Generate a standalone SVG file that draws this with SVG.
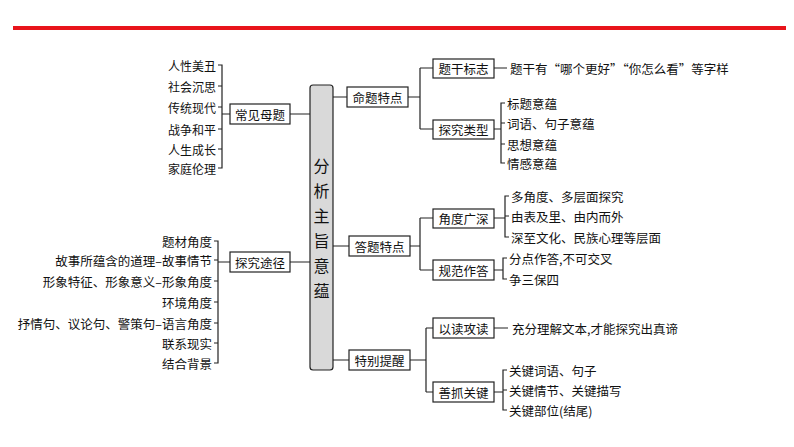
<svg xmlns="http://www.w3.org/2000/svg" width="794" height="447" viewBox="0 0 794 447">
<style>
text{font-family:"Noto Sans CJK SC","Liberation Serif",serif;font-size:12.5px;fill:#111;dominant-baseline:central}
.r{text-anchor:end}
.c{text-anchor:middle}
.b{fill:#fff;stroke:#222;stroke-width:1.2}
.l{fill:none;stroke:#222;stroke-width:1.2}
.big{font-size:16px}
.s{font-size:12px}
</style>
<rect width="794" height="447" fill="#fff"/>
<rect x="13" y="26" width="773" height="4" fill="#e8141b"/>
<g id="connectors">
<path class="l" d="M218 65H222V168H218M218 86H222M218 107H222M218 129H222M218 149H222M222 114H230M290 114H310"/>
<path class="l" d="M214 241H218V363H214M214 260H218M214 281H218M214 302H218M214 323H218M214 343H218M218 262H230M290 262H310"/>
<path class="l" d="M333 97H347M408 97H420M420 68V129M420 68H433M420 129H433M494 68H507M494 129H501M505 103H501V163H505M501 123H505M501 144H505"/>
<path class="l" d="M333 246H349M410 246H420M420 218V270M420 218H433M420 270H433M494 218H505M509 196H505V237H509M505 216H509M494 270H503M507 258H503V279H507"/>
<path class="l" d="M333 360H349M410 360H426M426 328V392M426 328H433M426 392H433M494 328H508M494 392H503M507 370H503V410H507M503 390H507"/>
</g>
<g id="center"><rect x="310" y="85" width="23" height="285" rx="3" fill="#d9d9d9" stroke="#222" stroke-width="1.2"/>
<text class="c big" x="321.5" y="165">分</text><text class="c big" x="321.5" y="190">析</text><text class="c big" x="321.5" y="215">主</text><text class="c big" x="321.5" y="240">旨</text><text class="c big" x="321.5" y="265">意</text><text class="c big" x="321.5" y="290">蕴</text></g>
<g id="n-common"><rect class="b" x="230" y="104" width="60" height="20"/><text class="c" x="260" y="114">常见母题</text>
<text class="r s" x="216" y="65">人性美丑</text><text class="r s" x="216" y="86">社会沉思</text><text class="r s" x="216" y="107">传统现代</text><text class="r s" x="216" y="129">战争和平</text><text class="r s" x="216" y="149">人生成长</text><text class="r s" x="216" y="168">家庭伦理</text></g>
<g id="n-path"><rect class="b" x="230" y="252" width="60" height="20"/><text class="c" x="260" y="262">探究途径</text>
<text class="r" x="212" y="241">题材角度</text><text class="r" x="212" y="260">故事所蕴含的道理–故事情节</text><text class="r" x="212" y="281">形象特征、形象意义–形象角度</text><text class="r" x="212" y="302">环境角度</text><text class="r" x="212" y="323">抒情句、议论句、警策句–语言角度</text><text class="r" x="212" y="343">联系现实</text><text class="r" x="212" y="363">结合背景</text></g>
<g id="n-mingti"><rect class="b" x="347" y="87" width="61" height="20"/><text class="c" x="377.5" y="97">命题特点</text></g>
<g id="n-tigan"><rect class="b" x="433" y="59" width="61" height="19"/><text class="c" x="463.5" y="68">题干标志</text><text x="510" y="68">题干有“哪个更好”“你怎么看”等字样</text></g>
<g id="n-type"><rect class="b" x="433" y="120" width="61" height="19"/><text class="c" x="463.5" y="129">探究类型</text>
<text x="507" y="103">标题意蕴</text><text x="507" y="123">词语、句子意蕴</text><text x="507" y="144">思想意蕴</text><text x="507" y="163">情感意蕴</text></g>
<g id="n-dati"><rect class="b" x="349" y="236" width="61" height="20"/><text class="c" x="379.5" y="246">答题特点</text></g>
<g id="n-jiaodu"><rect class="b" x="433" y="209" width="61" height="19"/><text class="c" x="463.5" y="218">角度广深</text>
<text x="511" y="196">多角度、多层面探究</text><text x="511" y="216">由表及里、由内而外</text><text x="511" y="237">深至文化、民族心理等层面</text></g>
<g id="n-guifan"><rect class="b" x="433" y="260" width="61" height="20"/><text class="c" x="463.5" y="270">规范作答</text>
<text x="509" y="258">分点作答,不可交叉</text><text x="509" y="279">争三保四</text></g>
<g id="n-tebie"><rect class="b" x="349" y="350" width="61" height="20"/><text class="c" x="379.5" y="360">特别提醒</text></g>
<g id="n-yidu"><rect class="b" x="433" y="318" width="61" height="20"/><text class="c" x="463.5" y="328">以读攻读</text><text x="512" y="328">充分理解文本,才能探究出真谛</text></g>
<g id="n-shanzhua"><rect class="b" x="433" y="382" width="61" height="20"/><text class="c" x="463.5" y="392">善抓关键</text>
<text x="509" y="370">关键词语、句子</text><text x="509" y="390">关键情节、关键描写</text><text x="509" y="410">关键部位(结尾)</text></g>
</svg>
